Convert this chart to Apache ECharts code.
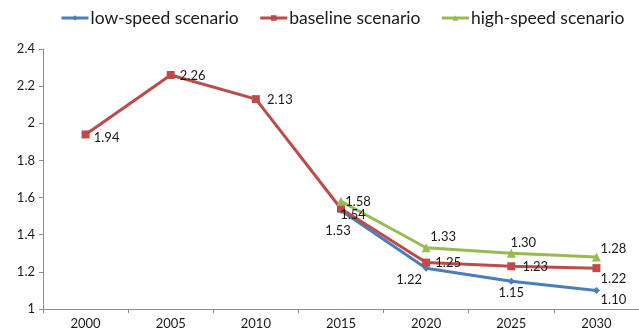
<!DOCTYPE html>
<html><head><meta charset="utf-8">
<script src="https://cdn.jsdelivr.net/npm/echarts@6/dist/echarts.min.js"></script>
<style>html,body{margin:0;padding:0;background:#fff}#c{width:639px;height:331px}</style>
</head><body><div id="c"></div>
<script>
var years = ['2000','2005','2010','2015','2020','2025','2030'];
var lowSpeed = [null, null, null, 1.53, 1.22, 1.15, 1.10];
var baseline = [1.94, 2.26, 2.13, 1.54, 1.25, 1.23, 1.22];
var highSpeed = [null, null, null, 1.58, 1.33, 1.30, 1.28];
var seriesNames = ['low-speed scenario', 'baseline scenario', 'high-speed scenario'];

// label offsets (center of label relative to point), per series & index
var lowOff = [null, null, null, [-3, 20], [-17, 12], [0, 12], [17, 9]];
var baseOff = [[21, 3], [22, 1], [24, 1], [12, 6], [22, 0], [24, 1], [17, 11]];
var highOff = [null, null, null, [17, 1], [17, -11], [12, -10], [17, -8]];

function build(vals, offs) {
  return vals.map(function (v, i) {
    if (v == null) return null;
    return { value: v, label: { offset: offs[i] } };
  });
}
var labelBase = {
  show: true, position: 'inside', align: 'center', verticalAlign: 'middle',
  color: '#1a1a1a', fontSize: 13, fontFamily: 'Lato',
  formatter: function (p) { return p.value.toFixed(2); }
};
var chart = echarts.init(document.getElementById('c'));
chart.setOption({
  animation: false,
  textStyle: { fontFamily: 'Lato' },
  legend: {
    top: 4, left: 55, itemWidth: 27, itemHeight: 7, itemGap: 20,
    lineStyle: { width: 3 },
    textStyle: { fontSize: 17.5, color: '#1a1a1a', fontFamily: 'Lato', padding: [0, 0, 0, -3] },
    data: seriesNames
  },
  grid: { left: 43, right: -11, top: 49, bottom: 22, containLabel: false },
  xAxis: {
    type: 'category', data: years, boundaryGap: true,
    axisLine: { lineStyle: { color: '#8c8c8c', width: 1 } },
    axisTick: { show: true, length: 4, lineStyle: { color: '#8c8c8c' } },
    axisLabel: { color: '#1a1a1a', fontSize: 13, margin: 8 },
    splitLine: { show: false }
  },
  yAxis: {
    type: 'value', min: 1, max: 2.4, interval: 0.2,
    axisLine: { show: true, lineStyle: { color: '#8c8c8c', width: 1 } },
    axisTick: { show: true, length: 4, lineStyle: { color: '#8c8c8c' } },
    axisLabel: { color: '#1a1a1a', fontSize: 13, margin: 8 },
    splitLine: { show: false }
  },
  series: [
    { name: seriesNames[0], type: 'line', data: build(lowSpeed, lowOff),
      color: '#4a7ebb', symbol: 'diamond', symbolSize: 7, showAllSymbol: true,
      lineStyle: { width: 3 }, label: labelBase, connectNulls: false },
    { name: seriesNames[1], type: 'line', data: build(baseline, baseOff),
      color: '#be4b48', symbol: 'rect', symbolSize: 8,
      lineStyle: { width: 3 }, label: labelBase },
    { name: seriesNames[2], type: 'line', data: build(highSpeed, highOff),
      color: '#98b954', symbol: 'triangle', symbolSize: 9,
      lineStyle: { width: 3 }, label: labelBase }
  ]
});
</script></body></html>
